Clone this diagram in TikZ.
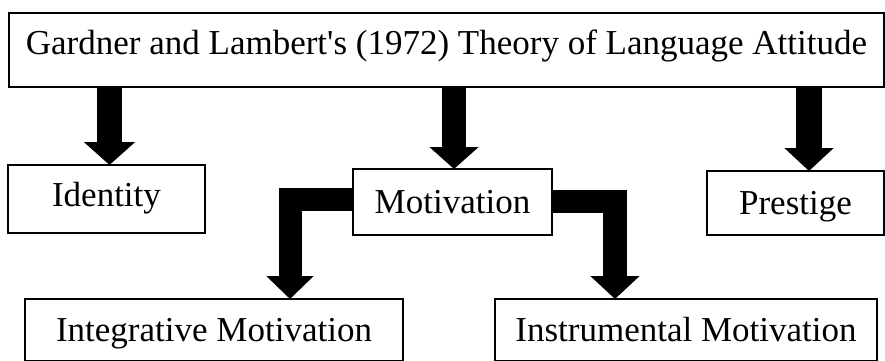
\documentclass[tikz,border=0pt]{standalone}
\usepackage{fontspec}
\setmainfont{Liberation Serif}[Ligatures=TeXOff]
\usetikzlibrary{arrows.meta}
\begin{document}
\begin{tikzpicture}[x=1pt,y=-1pt,
  box/.style={draw=black,line width=1.3pt,inner sep=0pt,outer sep=0pt,
    font=\fontsize{35}{40}\selectfont,text height=24pt,text depth=0.8pt,align=center},
  blockarrow/.style={draw=black,line join=miter,line cap=butt},
]
\clip (0,0) rectangle (885,360);
\fill[white] (0,0) rectangle (885,360);
\node[box,minimum width=875pt,minimum height=74pt,text depth=15.8pt] (top) at (446.5,50) {Gardner and Lambert's (1972) Theory of Language Attitude};
\node[box,minimum width=197pt,minimum height=68pt,text depth=8.8pt] (id) at (106.5,199) {Identity};
\node[box,minimum width=199pt,minimum height=66pt] (mot) at (452.5,202) {Motivation};
\node[box,minimum width=177pt,minimum height=64pt] (pres) at (795.5,203) {Prestige};
\node[box,minimum width=378pt,minimum height=62pt] (intg) at (214,330) {Integrative Motivation};
\node[box,minimum width=382pt,minimum height=62pt] (inst) at (686,330) {Instrumental Motivation};
\coordinate (a1) at (109.5,0);
\coordinate (a2) at (454,0);
\coordinate (a3) at (809,0);
\coordinate (l1) at (290,199);
\coordinate (r1) at (615,201.5);
\draw[blockarrow,line width=25pt,-{Triangle[width=50pt,length=23pt]}] (top.south -| a1) -- (id.north -| a1);
\draw[blockarrow,line width=24pt,-{Triangle[width=48pt,length=22pt]}] (top.south -| a2) -- (mot.north -| a2);
\draw[blockarrow,line width=26pt,-{Triangle[width=48pt,length=23pt]}] (top.south -| a3) -- (pres.north -| a3);
\draw[blockarrow,line width=23pt,-{Triangle[width=46pt,length=23pt]}] (mot.west |- l1) -| (intg.north -| l1);
\draw[blockarrow,line width=23.5pt,-{Triangle[width=48pt,length=23pt]}] (mot.east |- r1) -| (inst.north -| r1);
\end{tikzpicture}
\end{document}
